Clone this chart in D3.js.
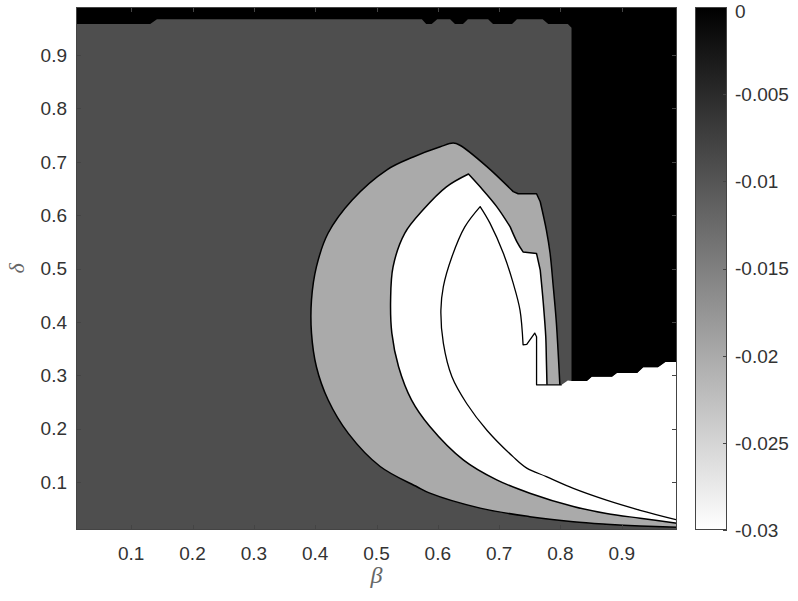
<!DOCTYPE html>
<html><head><meta charset="utf-8">
<script src="https://cdn.jsdelivr.net/npm/d3@7"></script>
<style>
html,body{margin:0;padding:0;background:#fff;}
svg{display:block;}
text{font-family:"Liberation Sans",Arial,sans-serif;fill:#333;}
</style></head>
<body>
<svg id="chart" width="798" height="601"></svg>
<script>
// ---- data (β, δ) ----
const xTicks = [0.1,0.2,0.3,0.4,0.5,0.6,0.7,0.8,0.9];
const yTicks = [0.1,0.2,0.3,0.4,0.5,0.6,0.7,0.8,0.9];
const cbTicks = [0,-0.005,-0.01,-0.015,-0.02,-0.025,-0.03];
const cbLabels = ["0","-0.005","-0.01","-0.015","-0.02","-0.025","-0.03"];

// outer contour (dark gray / light gray boundary)
const curveA = [[0.99,0.015],[0.930,0.0175],[0.875,0.021],[0.821,0.0256],[0.750,0.035],[0.669,0.051],[0.587,0.079],
 [0.566,0.091],[0.506,0.129],[0.454,0.191],[0.421,0.254],[0.402,0.316],[0.394,0.379],[0.394,0.441],[0.402,0.503],
 [0.421,0.566],[0.460,0.628],[0.517,0.685],[0.560,0.709],[0.604,0.728],[0.625,0.735],[0.636,0.731],
 [0.680,0.691],[0.723,0.644],[0.731,0.640],[0.761,0.640],[0.767,0.625],[0.777,0.572],[0.783,0.529],[0.788,0.469],
 [0.793,0.403],[0.796,0.347],[0.799,0.282]];
const cornersA = [23,24,25,26];
// middle contour (light gray / white boundary)
const curveB = [[0.99,0.0226],[0.930,0.032],[0.875,0.041],[0.821,0.054],[0.750,0.079],[0.696,0.104],[0.642,0.141],
 [0.587,0.204],[0.557,0.254],[0.536,0.316],[0.525,0.379],[0.523,0.441],[0.527,0.503],[0.546,0.566],
 [0.576,0.610],[0.614,0.653],[0.650,0.677],[0.669,0.653],[0.696,0.616],[0.718,0.578],[0.729,0.550],[0.739,0.531],
 [0.761,0.528],[0.767,0.497],[0.772,0.435],[0.776,0.372],[0.777,0.329],[0.778,0.282]];
const cornersB = [16,19,21,22,23];
// inner contour (inside white area)
const curveC = [[0.99,0.029],[0.930,0.047],[0.875,0.066],[0.821,0.088],[0.777,0.110],[0.745,0.126],[0.723,0.147],
 [0.680,0.197],[0.647,0.247],[0.623,0.297],[0.609,0.360],[0.605,0.422],[0.609,0.466],[0.623,0.522],[0.644,0.578],
 [0.669,0.616],[0.685,0.585],[0.707,0.528],[0.723,0.472],[0.734,0.422],[0.739,0.357],[0.745,0.358],[0.758,0.379],
 [0.761,0.372],[0.761,0.282],[0.802,0.282]];
const cornersC = [15,20,21,22,23,24];
// black (zero) region: top strip edge and staircase edge
const topEdge = [[0.01,0.958],[0.131,0.958],[0.142,0.967],[0.574,0.967],[0.581,0.958],[0.590,0.958],[0.599,0.967],
 [0.620,0.967],[0.628,0.958],[0.641,0.958],[0.649,0.967],[0.682,0.967],[0.690,0.958],[0.721,0.958],[0.729,0.967],
 [0.771,0.967],[0.780,0.958],[0.812,0.958],[0.818,0.951]];
const stair = [[0.818,0.289],[0.843,0.289],[0.851,0.297],[0.884,0.297],[0.892,0.304],[0.925,0.304],[0.935,0.315],
 [0.959,0.315],[0.971,0.325],[0.99,0.325]];

const colBlack = "#000000", colDark = "#4e4e4e", colLight = "#aaaaaa", colWhite = "#ffffff";

// ---- layout ----
const svg = d3.select("#chart");
const x = d3.scaleLinear().domain([0.01,0.99]).range([76,677]);
const y = d3.scaleLinear().domain([0.01,0.99]).range([530,7]);
const line = d3.line().x(d=>x(d[0])).y(d=>y(d[1]));
const smooth = d3.line().x(d=>x(d[0])).y(d=>y(d[1])).curve(d3.curveCatmullRom.alpha(0.5));
// smooth pieces between corner points
function contourPath(pts, corners){
  const cuts = [0].concat(corners, [pts.length-1]);
  let d = "";
  for(let i=0;i<cuts.length-1;i++){
    const piece = pts.slice(cuts[i], cuts[i+1]+1);
    const s = smooth(piece);
    d += i ? s.replace(/^M/,"L") : s;
  }
  return d;
}
const straight = rest => rest.map(p=>"L"+x(p[0])+","+y(p[1])).join("") + "Z";

svg.append("defs").append("clipPath").attr("id","clip")
  .append("rect").attr("x",x(0.01)).attr("y",y(0.99)).attr("width",x(0.99)-x(0.01)).attr("height",y(0.01)-y(0.99));

const g = svg.append("g").attr("clip-path","url(#clip)");
g.append("rect").attr("x",x(0.01)).attr("y",y(0.99)).attr("width",x(0.99)-x(0.01)).attr("height",y(0.01)-y(0.99)).attr("fill",colDark);

// light gray region
g.append("path").attr("d",contourPath(curveA,cornersA)+straight([[0.99,0.282]])).attr("fill",colLight);
// white region
g.append("path").attr("d",contourPath(curveB,cornersB)+straight([[0.802,0.282],[0.812,0.290]].concat(stair))).attr("fill",colWhite);
// black region
const polyK = [[0.01,0.99]].concat(topEdge, stair, [[0.99,0.99]]);
g.append("path").attr("d",line(polyK)+"Z").attr("fill",colBlack);

// contour lines
[[curveA,cornersA],[curveB,cornersB],[curveC,cornersC]].forEach((c,i)=>{
  g.append("path").attr("d",contourPath(c[0],c[1])).attr("fill","none").attr("stroke","#000")
    .attr("stroke-width", i===2?1.3:1.5).attr("stroke-linejoin","round");
});

// axes box
const axCol = "#444";
svg.append("rect").attr("x",x(0.01)+0.5).attr("y",y(0.99)+0.5).attr("width",x(0.99)-x(0.01)-1).attr("height",y(0.01)-y(0.99)-1)
  .attr("fill","none").attr("stroke",axCol).attr("stroke-width",1);

const tl = 5;
xTicks.forEach(t=>{
  const px = Math.round(x(t))+0.5;
  svg.append("line").attr("x1",px).attr("x2",px).attr("y1",y(0.01)).attr("y2",y(0.01)-tl).attr("stroke",axCol);
  svg.append("line").attr("x1",px).attr("x2",px).attr("y1",y(0.99)).attr("y2",y(0.99)+tl).attr("stroke",axCol);
  svg.append("text").attr("x",x(t)).attr("y",y(0.01)+30).attr("text-anchor","middle").attr("font-size",19).text(d3.format(".1f")(t));
});
yTicks.forEach(t=>{
  const py = Math.round(y(t))+0.5;
  svg.append("line").attr("x1",x(0.01)).attr("x2",x(0.01)+tl).attr("y1",py).attr("y2",py).attr("stroke",axCol);
  svg.append("line").attr("x1",x(0.99)).attr("x2",x(0.99)-tl).attr("y1",py).attr("y2",py).attr("stroke",axCol);
  svg.append("text").attr("x",x(0.01)-9).attr("y",y(t)).attr("dy","0.36em").attr("text-anchor","end").attr("font-size",19).text(d3.format(".1f")(t));
});

// axis labels
svg.append("text").attr("x",(x(0.01)+x(0.99))/2).attr("y",583).attr("text-anchor","middle")
  .attr("font-style","italic").attr("font-size",24)
  .style("fill","#666").style("font-family","'Liberation Serif','DejaVu Serif',serif").text("β");
svg.append("text").attr("transform",`translate(24,${(y(0.01)+y(0.99))/2}) rotate(-90)`).attr("text-anchor","middle")
  .attr("font-style","italic").attr("font-size",22)
  .style("fill","#666").style("font-family","'Liberation Serif','DejaVu Serif',serif").text("δ");

// colorbar
const cb = d3.scaleLinear().domain([-0.03,0]).range([530,7]);
const grad = svg.select("defs").append("linearGradient").attr("id","cbg").attr("x1",0).attr("x2",0).attr("y1",0).attr("y2",1);
grad.append("stop").attr("offset","0%").attr("stop-color","#000");
grad.append("stop").attr("offset","100%").attr("stop-color","#fff");
const cbx0 = 695, cbx1 = 727;
svg.append("rect").attr("x",cbx0).attr("y",cb(0)).attr("width",cbx1-cbx0).attr("height",cb(-0.03)-cb(0)).attr("fill","url(#cbg)");
svg.append("rect").attr("x",cbx0+0.5).attr("y",cb(0)+0.5).attr("width",cbx1-cbx0-1).attr("height",cb(-0.03)-cb(0)-1)
  .attr("fill","none").attr("stroke",axCol);
cbTicks.forEach((t,i)=>{
  const py = Math.round(cb(t))+0.5;
  svg.append("line").attr("x1",cbx1).attr("x2",cbx1-4).attr("y1",py).attr("y2",py).attr("stroke",axCol);
  svg.append("text").attr("x",cbx1+8).attr("y",Math.max(cb(t),11)).attr("dy","0.36em").attr("font-size",19).text(cbLabels[i]);
});
</script>
</body></html>
